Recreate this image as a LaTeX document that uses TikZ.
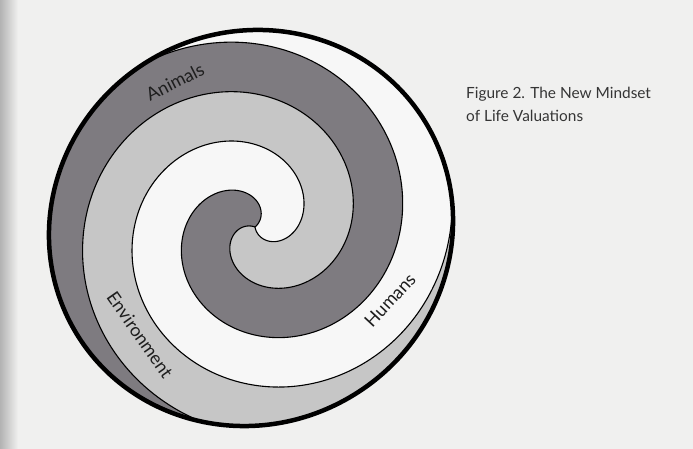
\documentclass[tikz,border=0pt]{standalone}
\usepackage{fontspec}
\setmainfont{Lato}
\definecolor{pagebg}{RGB}{240,240,239}
\definecolor{darkband}{RGB}{126,123,128}
\definecolor{lightband}{RGB}{198,198,198}
\definecolor{whiteband}{RGB}{247,247,247}
\definecolor{ink}{RGB}{30,30,30}
\begin{document}
\begin{tikzpicture}[x=1pt,y=1pt,
  declare function={sp(\u)=0.416667*(\u-30*exp(-(\u-30)/60));},
  bandedge/.style={draw=black, line width=1.1pt},
  bandtext/.style={font=\fontsize{18}{20}\selectfont, text=ink, inner sep=0pt},
  captext/.style={font=\fontsize{15.4}{20}\selectfont, text=ink!90, inner sep=0pt, anchor=base west},
  rim/.style={draw=black, line width=4.5pt},
]
\useasboundingbox (0,0) rectangle (693,449);
\fill[pagebg] (0,0) rectangle (693,449);
\shade[left color=black!30, right color=pagebg] (0,0) rectangle (18,449);
\begin{scope}
  \clip[rotate around={30:(251,221)}] (251,221) ellipse [x radius=204, y radius=196];
  \fill[lightband] (0,0) rectangle (693,449);
  \begin{scope}[shift={(255,222)}]
    \foreach \b/\c in {10/darkband,130/lightband,250/whiteband}{
      \fill[\c] plot[domain=30:760, samples=600] ({\b+\x}:{sp(\x)})
        -- plot[domain=760:150, samples=500] ({\b+\x}:{sp(\x-120)}) -- cycle;
    }
    \foreach \b in {10,130,250}{
      \draw[bandedge] plot[domain=30:760, samples=600] ({\b+\x}:{sp(\x)});
    }
  \end{scope}
\end{scope}
\draw[rim, rotate around={30:(251,221)}] (251,221) ellipse [x radius=204, y radius=196];
\node[bandtext, rotate=27] (animals) at (175,367) {Animals};
\node[bandtext, rotate=-55] (env) at (140,114) {Environment};
\node[bandtext, rotate=47] (humans) at (390,149) {Humans};
\node[captext] (cap1) at (466,350.7) {Figure 2. The New Mindset};
\node[captext] (cap2) at (466,327.3) {of Life Valuations};
\end{tikzpicture}
\end{document}
